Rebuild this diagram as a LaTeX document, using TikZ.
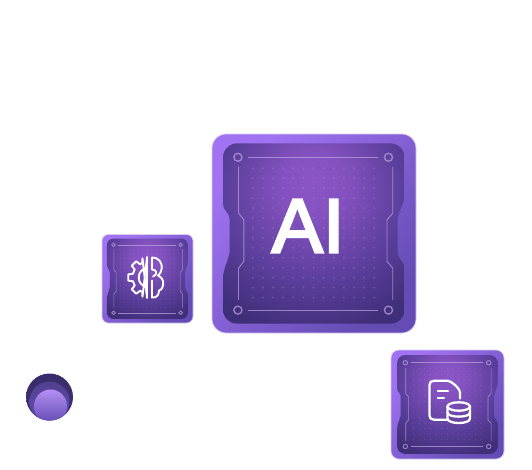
\documentclass[tikz,border=0pt]{standalone}
\usepackage{fontspec}
\setmainfont{Liberation Sans}[FakeBold=3.2]
\usepackage{tikz}

\definecolor{rimlight}{HTML}{A173F2}
\definecolor{rimdark}{HTML}{644CB4}
\definecolor{rimedge}{HTML}{D8CCF0}
\definecolor{glowmid}{HTML}{8B55C6}
\definecolor{glowside}{HTML}{5A3E9A}
\definecolor{glowlow}{HTML}{3F2E78}
\definecolor{traceline}{HTML}{BBA6E4}
\definecolor{badgemid}{HTML}{52408E}
\definecolor{badgedark}{HTML}{3A2C6A}

\pgfdeclareradialshading{chipglow}{\pgfpoint{0bp}{15bp}}{%
	color(0bp)=(glowmid);
	color(9bp)=(glowmid!85!glowside);
	color(25bp)=(glowside);
	color(38bp)=(glowlow);
	color(100bp)=(glowlow)}

\tikzset{
	rimplate/.style={shading=axis,top color=rimlight,bottom color=rimdark,shading angle=45,draw=rimedge,line width=.7pt},
	traces/.style={draw=traceline,draw opacity=.7},
	iconline/.style={draw=white,line width=2.3pt,line cap=round,line join=round},
	gearline/.style={iconline,line width=1.9pt}
}

\begin{document}
\begin{tikzpicture}[x=1pt,y=-1pt]
	\useasboundingbox (0,0) rectangle (532,469);
	
	%three chip plates
	\foreach \cx/\cy/\cw/\ch in {212/134/204/199,102/234.5/91/88.5,391/350/113/109}{
		\pgfmathsetmacro\cwu{\cw/100}
		\pgfmathsetmacro\chu{\ch/100}
		\pgfmathsetmacro\crad{.07*\cw}
		\pgfmathsetmacro\nrad{.02*\cw}
		\pgfmathsetmacro\tw{.3+.003*\cw}
		\begin{scope}[shift={(\cx,\cy)},x=\cwu pt,y=-\chu pt]
			\draw[rimplate,rounded corners=\crad pt] (0,0) rectangle (100,100);
			\path[shading=chipglow,rounded corners=\crad pt] (50,4.7) -- (94.4,4.7) -- (94.4,37.3) [rounded corners=\nrad pt] -- (91,40.6) -- (91,61.5) -- (94.4,65.7) [rounded corners=\crad pt] -- (94.4,95.3) -- (5.4,95.3) -- (5.4,65.7) [rounded corners=\nrad pt] -- (8.6,61.5) -- (8.6,40.6) -- (5.4,37.3) [rounded corners=\crad pt] -- (5.4,4.7) -- cycle;
			
			%dots
			\foreach \i in {0,...,12}{
				\foreach \j in {0,...,13}{
					\fill[traceline,opacity=.25] (20+4.96*\i,17.2+5*\j) circle (.55);
				}
			}
			
			%corner rings and traces
			\begin{scope}[traces,line width=\tw pt]
				\draw (17.6,11.7) -- (81.2,11.7);
				\draw (17.6,88.5) -- (81.2,88.5);
				\draw (13,16.4) -- (13,39.8) -- (15.6,43.1) -- (15.6,64) -- (13,67.4) -- (13,83.3);
				\draw (88.6,16.4) -- (88.6,39.8) -- (85.8,43.1) -- (85.8,64) -- (88.6,67.4) -- (88.6,83.3);
				\draw[line width=1.5*\tw pt] (12.7,11.7) circle (2);
				\draw[line width=1.5*\tw pt] (86.5,11.7) circle (2);
				\draw[line width=1.5*\tw pt] (12.7,88.5) circle (2);
				\draw[line width=1.5*\tw pt] (86.5,88.5) circle (2);
			\end{scope}
		\end{scope}
	}
	
	%big label
	\node[text=white,inner sep=0pt,font=\fontsize{77}{77}\selectfont] (ai) at (308,226) {AI};
	
	%gear and brain icon
	\begin{scope}[shift={(148,277.5)}]
		\draw[gearline] (-1,-20) -- (106:20) -- (112:15.5) \foreach \a in {135,180,225}{ -- (\a-14:15.5) -- (\a-9:20) -- (\a+9:20) -- (\a+14:15.5)} -- (248:15.5) -- (254:20) -- (-1,20);
		\draw[gearline] (-1,-20.5) -- (-1,20.5);
		\draw[gearline] (-1,-9) .. controls (-12,-9) and (-12,9) .. (-1,9);
		\draw[gearline] (4,-20) .. controls (10,-20.5) and (15,-15) .. (13.5,-8) .. controls (13,-5) and (11.5,-3) .. (10,-2) .. controls (14,0) and (16,3) .. (15,8) .. controls (14,12) and (12,13) .. (11,13) .. controls (11,18) and (8,20.5) .. (4,20) -- (4,3);
		\draw[gearline] (4,-20) -- (4,-8) .. controls (9,-8) and (10,-3) .. (5,-1);
	\end{scope}
	
	%document and database icon
	\draw[iconline] (446.5,419.7) -- (434,419.7) .. controls (431,419.7) and (429.5,418) .. (429.5,415.5) -- (429.5,385) .. controls (429.5,382.5) and (431,380.7) .. (434,380.7) -- (447,380.7) .. controls (451,380.7) and (460,388) .. (460,393) -- (460,398.5);
	\draw[iconline] (438,390.7) -- (448,390.7);
	\draw[iconline] (438,398) -- (444,398);
	\draw[iconline] (447.5,406.5) -- (447.5,418.5) .. controls (447.5,424.5) and (470,424.5) .. (470,418.5) -- (470,406.5);
	\draw[iconline] (458.75,406.5) ellipse (11.25 and 4.2);
	\draw[iconline] (447.5,412.5) .. controls (447.5,418) and (470,418) .. (470,412.5);
	
	%small round badge
	\begin{scope}
		\clip (49.5,397) circle (23.5);
		\shade[top color=badgedark,bottom color=glowlow] (49.5,397) circle (23.5);
		\shade[top color=badgemid,bottom color=rimdark] (49.5,401.5) circle (20);
		\shade[top color=rimlight!80!white,bottom color=rimdark] (50.5,406) circle (16.5);
	\end{scope}
\end{tikzpicture}
\end{document}
